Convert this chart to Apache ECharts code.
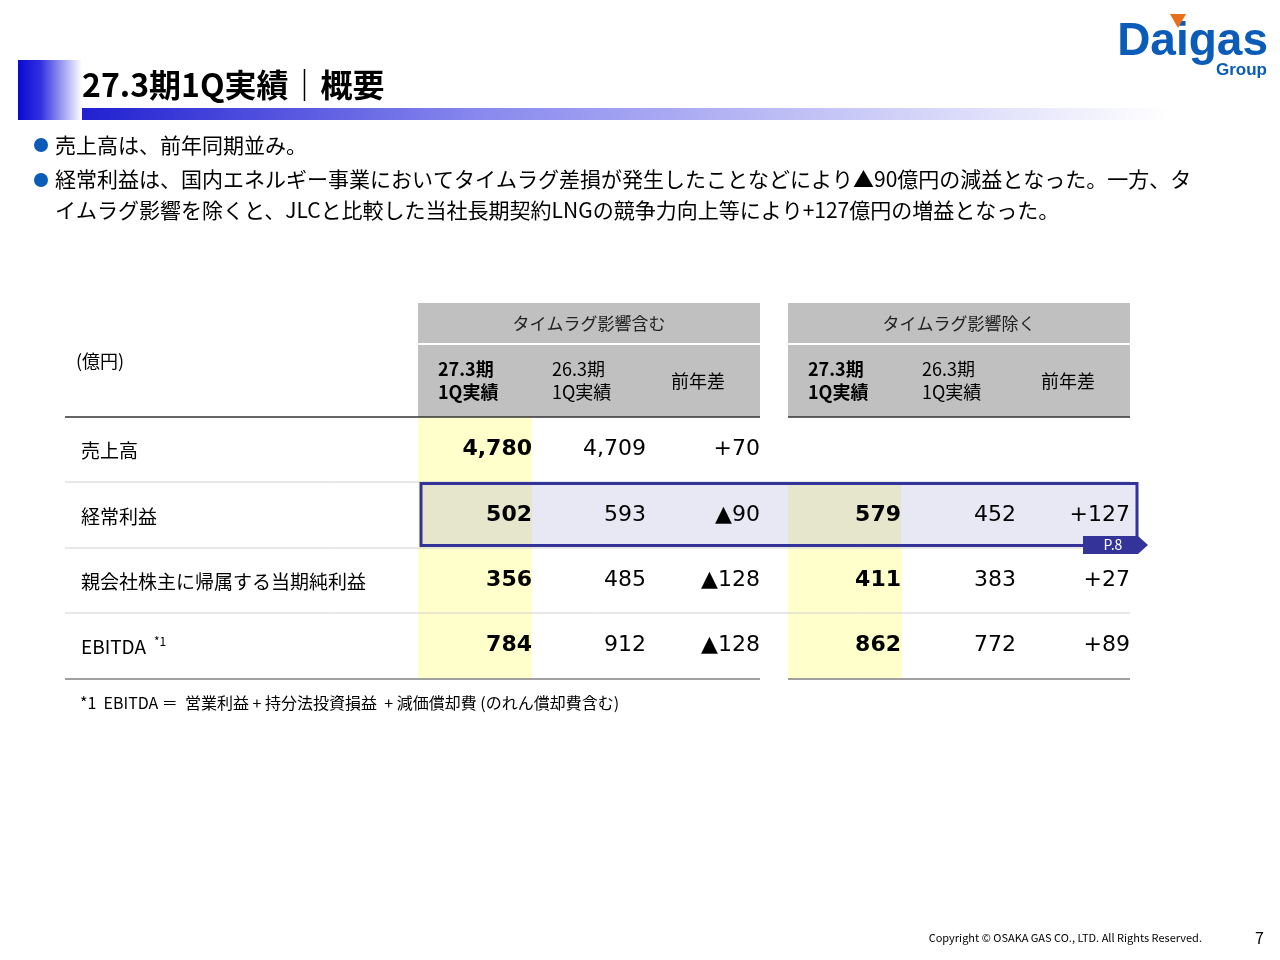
<!DOCTYPE html>
<html lang="ja">
<head>
<meta charset="UTF-8">
<title>27.3期1Q実績｜概要</title>
<script src="https://cdn.jsdelivr.net/npm/echarts@6/dist/echarts.min.js"></script>
<style>html,body{margin:0;padding:0;background:#fff}#main{width:1280px;height:960px}</style>
</head>
<body>
<div id="main"></div>
<script>
// 表のデータ
var rowLabels = ['売上高', '経常利益', '親会社株主に帰属する当期純利益', 'EBITDA'];
var withLag = [['4,780', '4,709', '+70'], ['502', '593', '▲90'], ['356', '485', '▲128'], ['784', '912', '▲128']];
var withoutLag = [['', '', ''], ['579', '452', '+127'], ['411', '383', '+27'], ['862', '772', '+89']];
var groupTitles = ['タイムラグ影響含む', 'タイムラグ影響除く'];
var colHeads = [['27.3期\n1Q実績', true], ['26.3期\n1Q実績', false], ['前年差', false]];
var bullets = [
  '売上高は、前年同期並み。',
  '経常利益は、国内エネルギー事業においてタイムラグ差損が発生したことなどにより▲90億円の減益となった。一方、タ\nイムラグ影響を除くと、JLCと比較した当社長期契約LNGの競争力向上等により+127億円の増益となった。'
];

var FONT = '"Noto Sans CJK JP", "Noto Sans", sans-serif';
var chart = echarts.init(document.getElementById('main'));
var g = [];

// タイトル帯
g.push({type: 'rect', shape: {x: 18, y: 108, width: 1150, height: 12},
  style: {fill: new echarts.graphic.LinearGradient(0, 0, 1, 0, [
    {offset: 0, color: '#1010cc'}, {offset: 0.4, color: '#8888ee'}, {offset: 1, color: '#ffffff'}])}});
g.push({type: 'rect', shape: {x: 18, y: 60, width: 64, height: 60},
  style: {fill: new echarts.graphic.LinearGradient(0, 0, 1, 0, [
    {offset: 0, color: '#0a0ad0'}, {offset: 0.35, color: '#3030e0'}, {offset: 1, color: '#ffffff'}])}});
g.push({type: 'text', x: 82, y: 85, style: {text: '27.3期1Q実績｜概要', font: 'bold 32px ' + FONT, fill: '#000', verticalAlign: 'middle'}});

// ロゴ
g.push({type: 'text', x: 1268, y: 42, style: {text: 'Daigas', font: 'bold 46px "Liberation Sans", Arial, sans-serif', fill: '#0a5cb8', align: 'right', verticalAlign: 'middle'}});
g.push({type: 'text', x: 1267, y: 70, style: {text: 'Group', font: 'bold 17px "Liberation Sans", Arial, sans-serif', fill: '#0a5cb8', align: 'right', verticalAlign: 'middle'}});
g.push({type: 'polygon', shape: {points: [[1170, 14], [1186, 14], [1178, 28]]}, style: {fill: '#e8701a'}});

// 箇条書き
var by = [145, 195];
bullets.forEach(function (b, i) {
  g.push({type: 'circle', shape: {cx: 41, cy: [145, 180][i], r: 7}, style: {fill: '#0a5cb8'}});
  g.push({type: 'text', x: 55, y: by[i], style: {text: b, font: '21px ' + FONT, fill: '#000', verticalAlign: 'middle', lineHeight: 31}});
});

// 表
var groupX = [418, 788], groupW = 342;
var colRight = [[532, 646, 760], [901, 1016, 1130]];
var rowY = [449, 515, 580, 645];
var rowTop = 417;

groupX.forEach(function (x0, gi) {
  g.push({type: 'rect', shape: {x: x0, y: 303, width: groupW, height: 40}, style: {fill: '#c0c0c0'}});
  g.push({type: 'rect', shape: {x: x0, y: 345, width: groupW, height: 72}, style: {fill: '#c0c0c0'}});
  g.push({type: 'text', x: x0 + groupW / 2, y: 324, style: {text: groupTitles[gi], font: '17px ' + FONT, fill: '#222', align: 'center', verticalAlign: 'middle'}});
  colHeads.forEach(function (h, ci) {
    var cx = [x0 + 20, x0 + 134, x0 + 280][ci];
    g.push({type: 'text', x: cx, y: 381, style: {text: h[0], font: (h[1] ? 'bold ' : '') + '18px ' + FONT, fill: '#000', align: ci === 2 ? 'center' : 'left', verticalAlign: 'middle', lineHeight: 23}});
  });
  var top = gi === 0 ? rowTop : 483;
  g.push({type: 'rect', shape: {x: x0, y: top, width: 114, height: 679 - top}, style: {fill: '#ffffcc'}});
});

// 経常利益ハイライト
g.push({type: 'rect', shape: {x: 532, y: 484, width: 256, height: 61}, style: {fill: '#e8e8f4'}});
g.push({type: 'rect', shape: {x: 901, y: 484, width: 236, height: 61}, style: {fill: '#e8e8f4'}});
g.push({type: 'rect', shape: {x: 421, y: 484, width: 111, height: 61}, style: {fill: '#e6e6cc'}});
g.push({type: 'rect', shape: {x: 788, y: 484, width: 113, height: 61}, style: {fill: '#e6e6cc'}});

g.push({type: 'text', x: 76, y: 361, style: {text: '(億円)', font: '18px ' + FONT, fill: '#000', verticalAlign: 'middle'}});
g.push({type: 'line', shape: {x1: 65, y1: 417, x2: 760, y2: 417}, style: {stroke: '#333', lineWidth: 1.5}});
g.push({type: 'line', shape: {x1: 788, y1: 417, x2: 1130, y2: 417}, style: {stroke: '#333', lineWidth: 1.5}});
[482, 548, 613].forEach(function (y) {
  g.push({type: 'line', shape: {x1: 65, y1: y, x2: 1130, y2: y}, style: {stroke: '#d0d0d0', lineWidth: 1}});
});
g.push({type: 'line', shape: {x1: 65, y1: 679, x2: 760, y2: 679}, style: {stroke: '#a0a0a0', lineWidth: 2}});
g.push({type: 'line', shape: {x1: 788, y1: 679, x2: 1130, y2: 679}, style: {stroke: '#a0a0a0', lineWidth: 2}});

rowLabels.forEach(function (lab, ri) {
  g.push({type: 'text', x: 81, y: rowY[ri] + 2, style: {text: lab, font: '19px ' + FONT, fill: '#000', verticalAlign: 'middle'}});
  [withLag, withoutLag].forEach(function (tbl, gi) {
    tbl[ri].forEach(function (v, ci) {
      g.push({type: 'text', x: colRight[gi][ci], y: rowY[ri], style: {text: v, font: (ci === 0 ? 'bold ' : '') + '22px "DejaVu Sans", ' + FONT, fill: '#000', align: 'right', verticalAlign: 'middle'}});
    });
  });
});
g.push({type: 'text', x: 154, y: 641, style: {text: '*1', font: '12px ' + FONT, fill: '#000', verticalAlign: 'middle'}});

g.push({type: 'rect', shape: {x: 421, y: 483.5, width: 716, height: 62}, style: {fill: 'none', stroke: '#333399', lineWidth: 3}});
g.push({type: 'polygon', shape: {points: [[1083, 536], [1138, 536], [1148, 545], [1138, 554], [1083, 554]]}, style: {fill: '#333399'}});
g.push({type: 'text', x: 1113, y: 545, style: {text: 'P.8', font: '14px ' + FONT, fill: '#fff', align: 'center', verticalAlign: 'middle'}});

g.push({type: 'text', x: 80, y: 703, style: {text: '*1  EBITDA ＝  営業利益 + 持分法投資損益  + 減価償却費 (のれん償却費含む)', font: '16px ' + FONT, fill: '#000', verticalAlign: 'middle'}});
g.push({type: 'text', x: 1202, y: 938, style: {text: 'Copyright © OSAKA GAS CO., LTD. All Rights Reserved.', font: '11px ' + FONT, fill: '#000', align: 'right', verticalAlign: 'middle'}});
g.push({type: 'text', x: 1264, y: 938, style: {text: '7', font: '16px ' + FONT, fill: '#000', align: 'right', verticalAlign: 'middle'}});

chart.setOption({animation: false, graphic: g});
</script>
</body>
</html>
